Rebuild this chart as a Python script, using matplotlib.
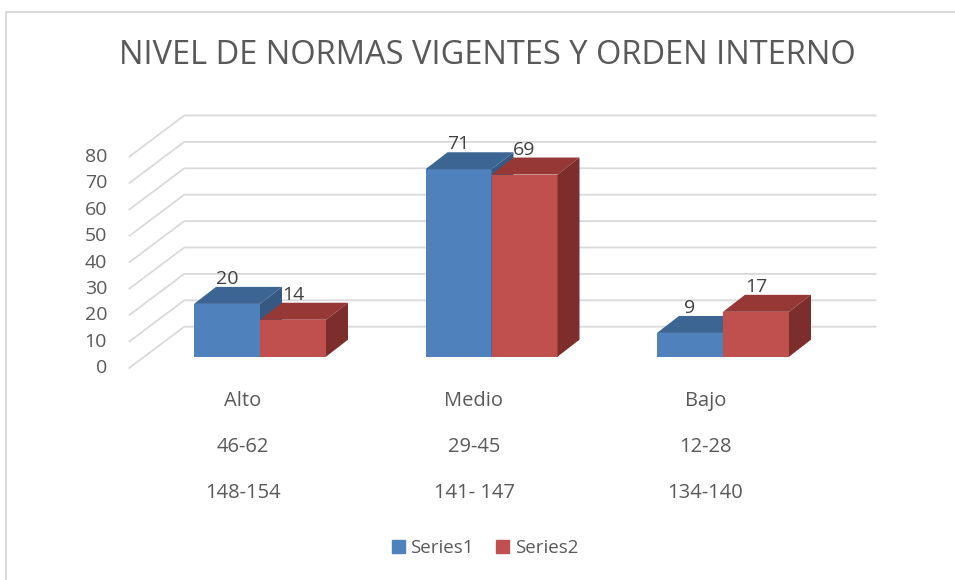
import numpy as np
import matplotlib
matplotlib.use('Agg')
import matplotlib.pyplot as plt
from matplotlib.patches import Patch

plt.rcParams['font.family'] = ['Open Sans', 'DejaVu Sans']

# ── 데이터 ──────────────────────────────
categories = ['Alto', 'Medio', 'Bajo']
ranges_a = ['46-62', '29-45', '12-28']
ranges_b = ['148-154', '141- 147', '134-140']
series1 = [20, 71, 9]
series2 = [14, 69, 17]
yticks = [0, 10, 20, 30, 40, 50, 60, 70, 80]
title = 'NIVEL DE NORMAS VIGENTES Y ORDEN INTERNO'
# ────────────────────────────────────────

W, H = 955, 580
PX_CAT = 231.5      # px per category
PX_VAL = 2.64       # px per value unit
X0 = 260.0          # px of first category centre
Y0 = 356.7          # px (from top) of value 0 on bar front plane

def dx(px):
    return px / PX_CAT

def dv(px):
    return px / PX_VAL

fig = plt.figure(figsize=(W / 100, H / 100), dpi=100)
ax = fig.add_axes([0, 0, 1, 1])
ax.set_xlim(-X0 / PX_CAT, (W - X0) / PX_CAT)
ax.set_ylim(-(H - Y0) / PX_VAL, Y0 / PX_VAL)
ax.axis('off')

text_col = '#595959'
grid_col = '#D9D9D9'

# 3D 오프셋
fdx, fdv = dx(-15.5), dv(-11.6)   # floor front edge
wdx, wdv = dx(40), dv(30)         # back wall
bdx, bdv = dx(22), dv(17)         # bar depth
left, right = -0.5, 2.49

for t in yticks:
    ax.plot([left + fdx, left + wdx, right + wdx], [t + fdv, t + wdv, t + wdv],
            color=grid_col, lw=1.3, solid_capstyle='butt', zorder=1)
    ax.text(dx(107 - X0), t + fdv, str(t), ha='right', va='center',
            fontsize=14, color=text_col)

x = np.arange(len(categories))
w = dx(66)

colors = {
    's1': ('#4F81BD', '#3D6593', '#355983'),
    's2': ('#C0504D', '#953836', '#7D2E2C'),
}

for i in range(len(categories)):
    for xs, v, key in [(x[i] - w, series1[i], 's1'), (x[i], series2[i], 's2')]:
        front, top, side = colors[key]
        ax.bar(xs, v, width=w, align='edge', color=front, zorder=3)
        ax.fill([xs, xs + w, xs + w + bdx, xs + bdx], [v, v, v + bdv, v + bdv],
                color=top, zorder=3, lw=0)
        ax.fill([xs + w, xs + w + bdx, xs + w + bdx, xs + w], [0, bdv, v + bdv, v],
                color=side, zorder=3, lw=0)
        ax.text(xs + w / 2, v + bdv + dv(8), str(v), ha='center', va='center',
                fontsize=14, color='#404040', zorder=4)

lab_off = dx(-17.5)
for i in range(len(categories)):
    ax.text(x[i] + lab_off, dv(Y0 - 401), categories[i], ha='center', va='center',
            fontsize=14.5, color=text_col)
    ax.text(x[i] + lab_off, dv(Y0 - 447), ranges_a[i], ha='center', va='center',
            fontsize=14.5, color=text_col)
    ax.text(x[i] + lab_off, dv(Y0 - 492.5), ranges_b[i], ha='center', va='center',
            fontsize=14.5, color=text_col)

fig.text(487 / W, 1 - 55 / H, title, ha='center', va='center',
         fontsize=23.5, color=text_col)

handles = [Patch(color=colors['s1'][0]), Patch(color=colors['s2'][0])]
fig.legend(handles, ['Series1', 'Series2'], loc='center',
           bbox_to_anchor=(485 / W, 1 - 548 / H), ncol=2, frameon=False,
           fontsize=13.5, handlelength=0.7, handleheight=0.7,
           handletextpad=0.3, columnspacing=1.2, labelcolor=text_col)

# 테두리
fig.add_artist(plt.Line2D([5.5 / W, 5.5 / W, 1], [0, 1 - 11.5 / H, 1 - 11.5 / H],
                          transform=fig.transFigure, color=grid_col, lw=1.5))

fig.savefig('out.png', dpi=100)
